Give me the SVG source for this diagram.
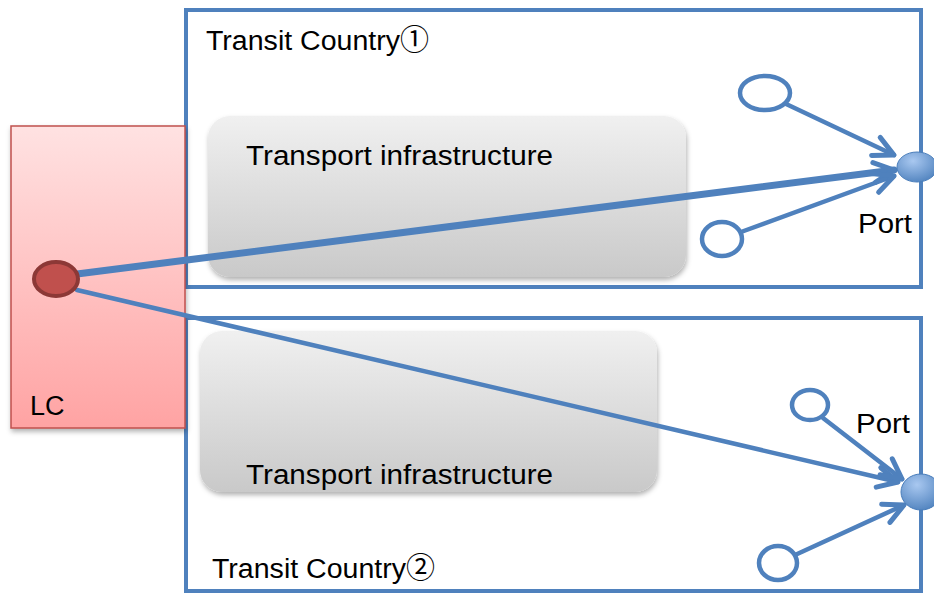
<svg xmlns="http://www.w3.org/2000/svg" width="934" height="593" viewBox="0 0 934 593">
<style>
.country{fill:none;stroke:#4f81bd;stroke-width:4}
.lbl{font-family:"Liberation Sans","Open Sans",sans-serif;font-size:27px;fill:#000}
.cj{font-family:"Noto Sans CJK JP",sans-serif}
.infra{fill:url(#gGray);filter:url(#sh)}
.small{fill:#fff;stroke:#4f81bd;stroke-width:4.5}
.port{fill:url(#gBlue);stroke:#4a7ebb;stroke-width:1}
.conn{fill:none;stroke:#4f81bd;stroke-linecap:round}
</style>
<defs>
<linearGradient id="gRed" x1="0" y1="0" x2="0" y2="1"><stop offset="0" stop-color="#ffe2e2"/><stop offset="1" stop-color="#ffa3a3"/></linearGradient>
<linearGradient id="gGray" x1="0" y1="0" x2="0" y2="1"><stop offset="0" stop-color="#f0f0f0"/><stop offset="1" stop-color="#c9c9c9"/></linearGradient>
<radialGradient id="gBlue" cx="0.4" cy="0.3" r="0.8"><stop offset="0" stop-color="#a9c8f0"/><stop offset="1" stop-color="#4a7ebb"/></radialGradient>
<filter id="sh" x="-10%" y="-10%" width="120%" height="130%"><feDropShadow dx="1" dy="3" stdDeviation="2.5" flood-color="#000" flood-opacity="0.3"/></filter>
<marker id="ah" markerUnits="userSpaceOnUse" markerWidth="40" markerHeight="40" viewBox="-30 -20 40 40" refX="0" refY="0" orient="auto" overflow="visible">
<path d="M-20,-10 L0,0 L-20,10" fill="none" stroke="#4f81bd" stroke-width="5" stroke-linecap="round" stroke-linejoin="round"/>
</marker>
</defs>
<g id="transit1">
<rect class="country" x="186" y="10" width="735" height="277"/>
<text class="lbl" x="206" y="50"><tspan textLength="194" lengthAdjust="spacingAndGlyphs">Transit Country</tspan><tspan class="cj" font-size="29">①</tspan></text>
</g>
<g id="transit2">
<rect class="country" x="186" y="318" width="735" height="273"/>
<text class="lbl" x="212" y="578"><tspan textLength="194" lengthAdjust="spacingAndGlyphs">Transit Country</tspan><tspan class="cj" font-size="29">②</tspan></text>
</g>
<g id="lc">
<rect x="11" y="126" width="174" height="302" fill="url(#gRed)" stroke="#c0504d" stroke-width="1.5" filter="url(#sh)"/>
<text class="lbl" x="30" y="415">LC</text>
</g>
<g id="infra1">
<rect class="infra" x="208" y="116" width="478" height="161" rx="22"/>
<text class="lbl" x="246" y="165" textLength="307" lengthAdjust="spacingAndGlyphs">Transport infrastructure</text>
</g>
<g id="infra2">
<rect class="infra" x="200" y="331" width="457" height="161" rx="22"/>
<text class="lbl" x="246" y="484" textLength="307" lengthAdjust="spacingAndGlyphs">Transport infrastructure</text>
</g>
<g id="connectors">
<line class="conn" x1="77" y1="274" x2="894" y2="170" stroke-width="7" marker-end="url(#ah)"/>
<line class="conn" x1="77" y1="290" x2="898" y2="482" stroke-width="4.5" marker-end="url(#ah)"/>
<line class="conn" x1="784" y1="103" x2="894" y2="155" stroke-width="4.5" marker-end="url(#ah)"/>
<line class="conn" x1="741" y1="232" x2="894" y2="176" stroke-width="4.5" marker-end="url(#ah)"/>
<line class="conn" x1="823" y1="418" x2="902" y2="479" stroke-width="4.5" marker-end="url(#ah)"/>
<line class="conn" x1="795" y1="555" x2="904" y2="505" stroke-width="4.5" marker-end="url(#ah)"/>
</g>
<g id="lcnode"><ellipse cx="56" cy="279" rx="22" ry="17" fill="#c0504d" stroke="#8c3836" stroke-width="4"/></g>
<g id="src1"><ellipse class="small" cx="765" cy="93" rx="25" ry="17"/></g>
<g id="src2"><ellipse class="small" cx="722" cy="239" rx="20" ry="17"/></g>
<g id="src3"><ellipse class="small" cx="810" cy="405" rx="18" ry="15"/></g>
<g id="src4"><ellipse class="small" cx="778" cy="563" rx="19" ry="17"/></g>
<g id="port1"><ellipse class="port" cx="917" cy="167" rx="20" ry="15"/><text class="lbl" x="858" y="233" textLength="54" lengthAdjust="spacingAndGlyphs">Port</text></g>
<g id="port2"><ellipse class="port" cx="921" cy="492" rx="20" ry="18"/><text class="lbl" x="856" y="433" textLength="54" lengthAdjust="spacingAndGlyphs">Port</text></g>
</svg>
